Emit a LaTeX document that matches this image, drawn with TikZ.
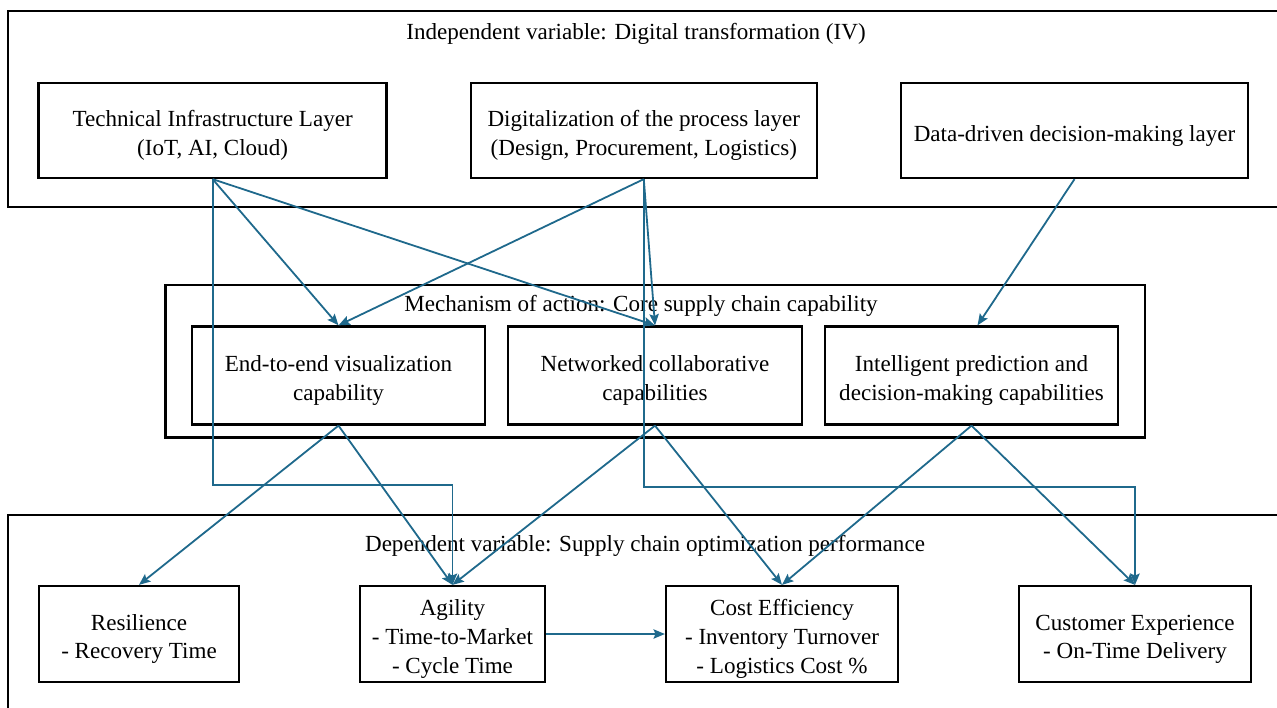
\documentclass[tikz,border=0pt]{standalone}
\usepackage{fontspec}
\setmainfont{Liberation Serif}
\usetikzlibrary{arrows.meta,calc}
\definecolor{arrc}{RGB}{31,105,140}
\newcommand\boxtext[1]{\raisebox{-3.6pt}[\height][\depth]{\begin{tabular}{@{}c@{}}#1\end{tabular}}}
\begin{document}
\begin{tikzpicture}[x=0.75pt,y=-0.75pt,
  txt/.style={font=\fontsize{17.3}{21.5}\selectfont, align=center, inner sep=0pt},
  box/.style={txt, draw, line width=1.7pt},
  wh/.style 2 args={minimum width=#1*0.75pt, minimum height=#2*0.75pt},
  frame/.style={draw, line width=1.7pt},
  conn/.style={draw=arrc, line width=1.35pt, -{Stealth[length=8.5pt,width=7pt,inset=1.5pt]}}]
\useasboundingbox (0,0) rectangle (1277,707);
% containers
\draw[frame] (1280,11) -- (8,11) -- (8,207) -- (1280,207);
\draw[frame] (165.5,285) rectangle (1145,437.5);
\draw[frame] (8,710) -- (8,515) -- (1280,515);
% titles
\node[txt] (t1) at (636,33.5) {Independent variable: Digital transformation (IV)};
\node[txt] (t2) at (641,306) {Mechanism of action: Core supply chain capability};
\node[txt] (t3) at (645,546) {Dependent variable: Supply chain optimization performance};
% top layer
\node[box, wh={348}{95}] (tech) at (212.6,130.5) {\boxtext{Technical Infrastructure Layer\\(IoT, AI, Cloud)}};
\node[box, wh={346}{95}] (dig) at (643.8,130.5) {\boxtext{Digitalization of the process layer\\(Design, Procurement, Logistics)}};
\node[box, wh={347}{95}] (data) at (1074.5,130.5) {\boxtext{Data-driven decision-making layer}};
% middle layer
\node[box, wh={293}{98}] (e2e) at (338.5,375.5) {\boxtext{End-to-end visualization\\capability}};
\node[box, wh={294}{98}] (net) at (655,375.5) {\boxtext{Networked collaborative\\capabilities}};
\node[box, wh={293}{98}] (intel) at (971.5,375.5) {\boxtext{Intelligent prediction and\\decision-making capabilities}};
% bottom layer
\node[box, wh={200}{96}] (res) at (139,634) {\boxtext{Resilience\\- Recovery Time}};
\node[box, wh={185}{96}] (agi) at (452.5,634) {\boxtext{Agility\\- Time-to-Market\\- Cycle Time}};
\node[box, wh={232}{96}] (cost) at (782,634) {\boxtext{Cost Efficiency\\- Inventory Turnover\\- Logistics Cost \%}};
\node[box, wh={232}{96}] (cust) at (1135,634) {\boxtext{Customer Experience\\- On-Time Delivery}};
% bend points
\coordinate (tbend) at (452.5,485);
\coordinate (dbend) at (1135,487);
% connectors
\draw[conn] (tech.south) -- (e2e.north);
\draw[conn] (tech.south) -- (net.north);
\draw[conn] (tech.south) |- (tbend) -- (agi.north);
\draw[conn] (dig.south) -- (e2e.north);
\draw[conn] (dig.south) -- (net.north);
\draw[conn] (dig.south) |- (dbend) -- (cust.north);
\draw[conn] (data.south) -- ($(intel.north)+(6,0)$);
\draw[conn] (e2e.south) -- (res.north);
\draw[conn] (e2e.south) -- (agi.north);
\draw[conn] (net.south) -- (agi.north);
\draw[conn] (net.south) -- (cost.north);
\draw[conn] (intel.south) -- (cost.north);
\draw[conn] (intel.south) -- (cust.north);
\draw[conn] (agi.east) -- (cost.west);
\end{tikzpicture}
\end{document}
